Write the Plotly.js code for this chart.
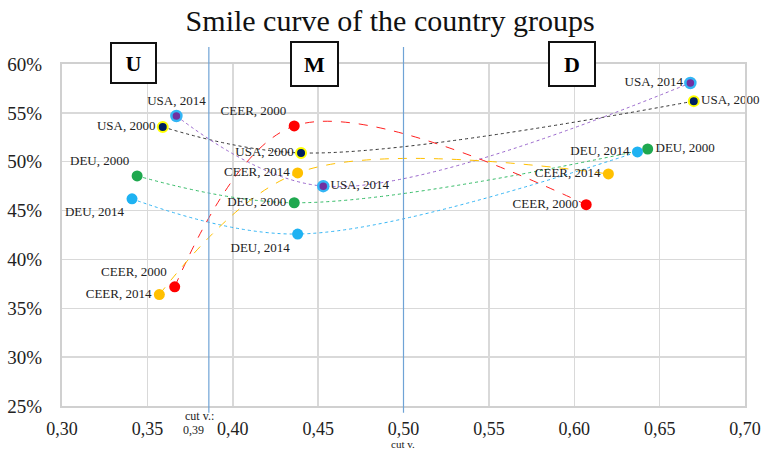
<!DOCTYPE html>
<html>
<head>
<meta charset="utf-8">
<script src="https://cdn.plot.ly/plotly-3.0.1.min.js"></script>
<style>html,body{margin:0;padding:0;background:#fff;}#chart{width:765px;height:450px;}</style>
</head>
<body>
<div id="chart"></div>
<script>
// Data: positions along the value chain (x) and value-added share (y), U / M / D stages
var groups = ["U", "M", "D"];
var usa2000X = [0.359, 0.440, 0.670];
var usa2000Y = [0.5356, 0.509, 0.562];
var usa2014X = [0.367, 0.453, 0.668];
var usa2014Y = [0.5468, 0.475, 0.5806];
var deu2000X = [0.344, 0.436, 0.643];
var deu2000Y = [0.4855, 0.458, 0.513];
var deu2014X = [0.341, 0.438, 0.637];
var deu2014Y = [0.462, 0.426, 0.510];
var ceer2000X = [0.366, 0.436, 0.607];
var ceer2000Y = [0.372, 0.5366, 0.456];
var ceer2014X = [0.357, 0.438, 0.620];
var ceer2014Y = [0.364, 0.4885, 0.4875];
var seriesNames = ["USA, 2000", "USA, 2014", "DEU, 2000", "DEU, 2014", "CEER, 2000", "CEER, 2014"];
var cutValues = [0.386, 0.50];
var cutLabels = ["cut v.:", "0,39", "cut v."];
var xTicks = [0.30, 0.35, 0.40, 0.45, 0.50, 0.55, 0.60, 0.65, 0.70];
var yTicks = [0.25, 0.30, 0.35, 0.40, 0.45, 0.50, 0.55, 0.60];

var serif = "Liberation Serif, Times New Roman, serif";

var styles = [
  {line: {color: "#333333", width: 1, dash: "dot"}, marker: {color: "#002060", size: 10, line: {color: "#FFFF00", width: 2}},
   pos: ["middle left", "middle left", "middle right"]},
  {line: {color: "#9966CC", width: 1, dash: "dot"}, marker: {color: "#7030A0", size: 10, line: {color: "#33B5F5", width: 2.5}},
   pos: ["top center", "middle right", "middle left"]},
  {line: {color: "#33BB66", width: 1, dash: "dot"}, marker: {color: "#1FA84F", size: 11, line: {width: 0}},
   pos: ["top left", "middle left", "middle right"]},
  {line: {color: "#33B5F5", width: 1, dash: "dot"}, marker: {color: "#1EB2F2", size: 11, line: {width: 0}},
   pos: ["bottom left", "bottom left", "middle left"]},
  {line: {color: "#FF2020", width: 1, dash: "dash"}, marker: {color: "#FF0000", size: 11, line: {width: 0}},
   pos: ["top left", "top left", "middle left"]},
  {line: {color: "#FFC000", width: 1, dash: "dash"}, marker: {color: "#FFC000", size: 11, line: {width: 0}},
   pos: ["middle left", "middle left", "middle left"]}
];
var xs = [usa2000X, usa2014X, deu2000X, deu2014X, ceer2000X, ceer2014X];
var ys = [usa2000Y, usa2014Y, deu2000Y, deu2014Y, ceer2000Y, ceer2014Y];

var traces = [];
for (var i = 0; i < xs.length; i++) {
  traces.push({
    x: xs[i], y: ys[i], type: "scatter", mode: "lines",
    line: Object.assign({shape: "spline", smoothing: 1}, styles[i].line),
    hoverinfo: "skip", showlegend: false
  });
}
for (var j = 0; j < xs.length; j++) {
  traces.push({
    x: xs[j], y: ys[j], type: "scatter", mode: "markers+text",
    marker: styles[j].marker,
    text: groups.map(function(){ return seriesNames[j]; }),
    textposition: styles[j].pos,
    textfont: {family: serif, size: 13, color: "#222222"},
    cliponaxis: false,
    name: seriesNames[j], showlegend: false
  });
}

var shapes = cutValues.map(function(c){
  return {type: "line", xref: "x", yref: "paper", x0: c, x1: c, y0: -0.02, y1: 1.05,
          line: {color: "#6FA3D6", width: 1.2}};
});

var boxFont = {family: serif, size: 22, color: "#000"};
var annotations = [
  {text: "<b>U</b>", xref: "paper", yref: "paper", x: 0.1054, y: 1.004, xanchor: "center", yanchor: "middle",
   showarrow: false, font: boxFont, bordercolor: "#111", borderwidth: 2, width: 41, height: 36, bgcolor: "#fff"},
  {text: "<b>M</b>", xref: "paper", yref: "paper", x: 0.369, y: 1.0, xanchor: "center", yanchor: "middle",
   showarrow: false, font: boxFont, bordercolor: "#111", borderwidth: 2, width: 43, height: 40, bgcolor: "#fff"},
  {text: "<b>D</b>", xref: "paper", yref: "paper", x: 0.7474, y: 1.0, xanchor: "center", yanchor: "middle",
   showarrow: false, font: boxFont, bordercolor: "#111", borderwidth: 2, width: 42, height: 40, bgcolor: "#fff"},
  {text: cutLabels[0], xref: "paper", yref: "paper", x: 0.202, y: -0.03, xanchor: "center", yanchor: "middle",
   showarrow: false, font: {family: serif, size: 12, color: "#222"}},
  {text: cutLabels[1], xref: "paper", yref: "paper", x: 0.192, y: -0.071, xanchor: "center", yanchor: "middle",
   showarrow: false, font: {family: serif, size: 12, color: "#222"}},
  {text: cutLabels[2], xref: "paper", yref: "paper", x: 0.4993, y: -0.111, xanchor: "center", yanchor: "middle",
   showarrow: false, font: {family: serif, size: 11, color: "#222"}}
];

var layout = {
  width: 765, height: 450,
  margin: {l: 62, r: 20, t: 64, b: 44},
  paper_bgcolor: "#fff", plot_bgcolor: "#fff",
  separators: ", ",
  title: {text: "Smile curve of the country groups", x: 0.51, xref: "container", xanchor: "center",
          y: 0.955, yref: "container", yanchor: "middle",
          font: {family: serif, size: 30, color: "#111"}},
  xaxis: {range: [0.30, 0.70], tickvals: xTicks, tickformat: ".2f",
          showgrid: true, gridcolor: "#D9D9D9", gridwidth: 1.5,
          showline: true, linecolor: "#D0D0D0", linewidth: 2, mirror: true,
          zeroline: false, ticks: "outside", ticklen: 5, tickcolor: "rgba(0,0,0,0)",
          tickfont: {family: serif, size: 18, color: "#222"}},
  yaxis: {range: [0.25, 0.60], tickvals: yTicks, tickformat: ".0%",
          showgrid: true, gridcolor: "#D9D9D9", gridwidth: 1.5,
          showline: true, linecolor: "#D0D0D0", linewidth: 2, mirror: true,
          zeroline: false, ticks: "outside", ticklen: 14, tickcolor: "rgba(0,0,0,0)",
          tickfont: {family: serif, size: 19, color: "#222"}},
  shapes: shapes,
  annotations: annotations,
  showlegend: false
};

Plotly.newPlot("chart", traces, layout, {staticPlot: true, displayModeBar: false});
</script>
</body>
</html>
